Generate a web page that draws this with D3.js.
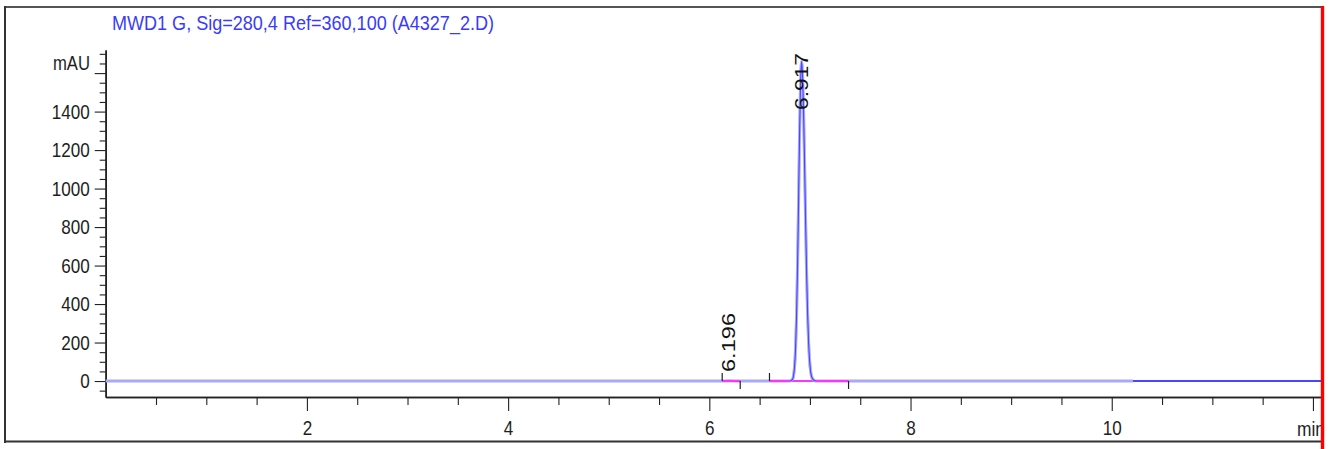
<!DOCTYPE html>
<html>
<head>
<meta charset="utf-8">
<script src="https://cdn.jsdelivr.net/npm/d3@7"></script>
<style>
  html, body { margin: 0; padding: 0; background: #fff; }
  svg { display: block; }
  text { font-family: "Liberation Sans", Arial, sans-serif; }
</style>
</head>
<body>
<svg id="chart" width="1330" height="449"></svg>
<script>
// ---------------- DATA ----------------
const titleText = "MWD1 G, Sig=280,4 Ref=360,100 (A4327_2.D)";
const xUnit = "min";
const yUnit = "mAU";
// chromatogram trace (retention time in min, absorbance in mAU)
const traceTime  = [0, 6.10, 6.196, 6.29, 6.80, 6.827, 6.837, 6.847, 6.857, 6.867, 6.877, 6.887, 6.897, 6.907, 6.917, 6.927, 6.937, 6.947, 6.957, 6.967, 6.977, 6.987, 6.997, 7.007, 7.017, 7.037, 7.06, 10.21, 12.08];
const traceValue = [0, 0,    1.5,   0,    0,    9,     28,    73,    166,   336,   596,   932,   1282,  1553,  1660,  1585,  1392,  1122,  829,   561,   349,   199,   104,   50,    22,    5,     0,    0,     0];
// time where the trace changes drawing style
const traceSplit = 10.21;
// integration events
const eventStart = [6.128, 6.598];
const eventEnd   = [6.307, 7.384];
// peak labels
const peakRT     = [6.196, 6.917];
const peakLabel  = ["6.196", "6.917"];
// axis ticks
const xMajorTicks = [2, 4, 6, 8, 10, 12];
const xTickLabels = ["2", "4", "6", "8", "10", ""];
const yMajorTicks = [0, 200, 400, 600, 800, 1000, 1200, 1400, 1600];
const yTickLabels = ["0", "200", "400", "600", "800", "1000", "1200", "1400", ""];

// ---------------- LAYOUT ----------------
const L = { x0: 105.7, x1: 1321, yTop: 50, yBot: 397 };
const xDomain = [0, 12.08];
const yDomain = [-83, 1720];
const font = 20.5, digitW = 9.5;

const svg = d3.select("#chart");
const x = d3.scaleLinear().domain(xDomain).range([L.x0, L.x1]);
const y = d3.scaleLinear().domain(yDomain).range([L.yBot, L.yTop]);

// frame
svg.append("line").attr("x1", 5).attr("x2", 1321).attr("y1", 7).attr("y2", 7)
  .attr("stroke", "#555").attr("stroke-width", 2);
svg.append("line").attr("x1", 5).attr("x2", 5).attr("y1", 6).attr("y2", 443)
  .attr("stroke", "#333").attr("stroke-width", 2);
svg.append("line").attr("x1", 4).attr("x2", 1321).attr("y1", 441.5).attr("y2", 441.5)
  .attr("stroke", "#333").attr("stroke-width", 2);

// title
svg.append("text").attr("x", 112).attr("y", 30).attr("font-size", 20.5)
  .attr("fill", "#3a3aff").attr("textLength", 382).attr("lengthAdjust", "spacingAndGlyphs")
  .text(titleText);

// y axis: minor ticks
const yMinor = d3.range(-50, 1701, 50).filter(v => v % 200 !== 0);
const gyMinor = svg.append("g").attr("transform", `translate(${L.x0},0)`)
  .call(d3.axisLeft(y).tickValues(yMinor).tickSize(6).tickSizeOuter(0).tickFormat(""));
// y axis: major
const gy = svg.append("g").attr("transform", `translate(${L.x0},0)`)
  .call(d3.axisLeft(y).tickValues(yMajorTicks).tickSize(11).tickSizeOuter(0).tickPadding(5)
    .tickFormat((d, i) => yTickLabels[i]));
[gyMinor, gy].forEach(g => {
  g.select(".domain").attr("stroke", "#222").attr("stroke-width", 1.6);
  g.selectAll(".tick line").attr("stroke", "#222").attr("stroke-width", 1.1);
});
gy.selectAll(".tick text").attr("font-size", font).attr("fill", "#1e1e1e")
  .attr("font-family", '"Liberation Sans", Arial, sans-serif')
  .each(function () {
    const t = d3.select(this).text();
    if (t) d3.select(this).attr("textLength", t.length * digitW).attr("lengthAdjust", "spacingAndGlyphs");
  });
svg.append("text").attr("x", 90).attr("y", 69.5).attr("text-anchor", "end")
  .attr("font-size", font).attr("fill", "#1e1e1e")
  .attr("textLength", 37).attr("lengthAdjust", "spacingAndGlyphs").text(yUnit);

// x axis: minor
const xMinor = d3.range(0.5, 12.01, 0.5).filter(v => v % 2 !== 0);
const gxMinor = svg.append("g").attr("transform", `translate(0,${L.yBot})`)
  .call(d3.axisBottom(x).tickValues(xMinor).tickSize(8).tickSizeOuter(0).tickFormat(""));
const gx = svg.append("g").attr("transform", `translate(0,${L.yBot})`)
  .call(d3.axisBottom(x).tickValues(xMajorTicks).tickSize(14).tickSizeOuter(0).tickPadding(9.5)
    .tickFormat((d, i) => xTickLabels[i]));
[gxMinor, gx].forEach(g => {
  g.select(".domain").attr("stroke", "#222").attr("stroke-width", 1.6);
  g.selectAll(".tick line").attr("stroke", "#222").attr("stroke-width", 1.1);
});
gx.selectAll(".tick text").attr("font-size", font).attr("fill", "#1e1e1e")
  .attr("font-family", '"Liberation Sans", Arial, sans-serif')
  .each(function () {
    const t = d3.select(this).text();
    if (t) d3.select(this).attr("textLength", t.length * digitW).attr("lengthAdjust", "spacingAndGlyphs");
  });
svg.append("text").attr("x", 1297).attr("y", 435.5).attr("font-size", font).attr("fill", "#1e1e1e")
  .attr("textLength", 28).attr("lengthAdjust", "spacingAndGlyphs").text(xUnit);

// trace
const pts = traceTime.map((t, i) => ({ t, v: traceValue[i] }));
const line = d3.line().x(d => x(d.t)).y(d => y(d.v)).curve(d3.curveMonotoneX);
svg.append("path").datum(pts.filter(d => d.t <= traceSplit))
  .attr("d", line).attr("fill", "none").attr("stroke", "#a9a9f7").attr("stroke-width", 3);
svg.append("path").datum(pts.filter(d => d.t >= traceSplit))
  .attr("d", line).attr("fill", "none").attr("stroke", "#4646ff").attr("stroke-width", 2);

// integration baselines
eventStart.forEach((s, i) => {
  const e = eventEnd[i];
  svg.append("line").attr("x1", x(s)).attr("x2", x(e)).attr("y1", y(0)).attr("y2", y(0))
    .attr("stroke", "#ff33ff").attr("stroke-width", 2);
  svg.append("line").attr("x1", x(s)).attr("x2", x(s)).attr("y1", y(0)).attr("y2", y(0) - 8)
    .attr("stroke", "#222").attr("stroke-width", 1.2);
  svg.append("line").attr("x1", x(e)).attr("x2", x(e)).attr("y1", y(0)).attr("y2", y(0) + 8)
    .attr("stroke", "#222").attr("stroke-width", 1.2);
});

// peak drawn on top (thin blue)
const peakPts = pts.filter(d => d.t >= 6.80 && d.t <= 7.06);
svg.append("path").datum(peakPts).attr("d", line).attr("fill", "none")
  .attr("stroke", "#b8b8fb").attr("stroke-width", 2.6);
svg.append("path").datum(peakPts).attr("d", line).attr("fill", "none")
  .attr("stroke", "#4848ff").attr("stroke-width", 1.2);

// peak labels (rotated)
const labelBottom = [372, 110];
const labelLen = [59, 57];
peakRT.forEach((rt, i) => {
  svg.append("text")
    .attr("transform", `translate(${x(rt) + 6},${labelBottom[i]}) rotate(-90)`)
    .attr("font-size", 18.5).attr("fill", "#111")
    .attr("textLength", labelLen[i]).attr("lengthAdjust", "spacingAndGlyphs")
    .text(peakLabel[i]);
});

// red marker on right edge
svg.append("line").attr("x1", 1322.5).attr("x2", 1322.5).attr("y1", 6).attr("y2", 449)
  .attr("stroke", "#ff0000").attr("stroke-width", 3.4);
</script>
</body>
</html>
